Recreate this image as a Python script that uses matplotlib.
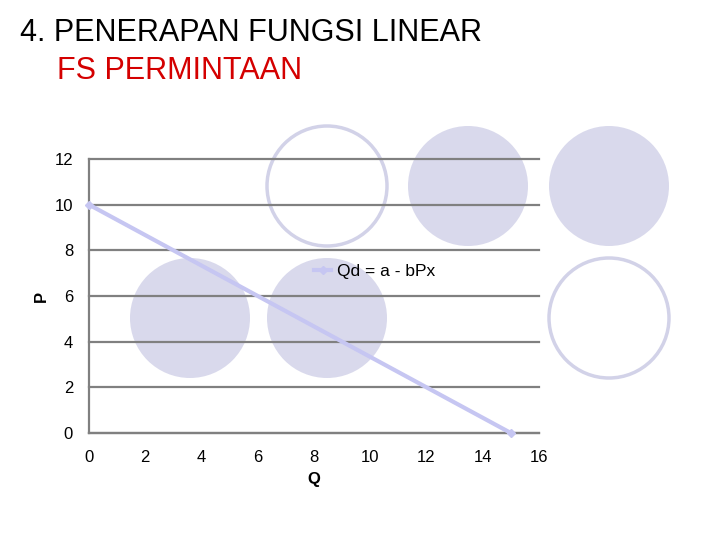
import matplotlib
matplotlib.use("Agg")
import matplotlib.pyplot as plt
from matplotlib.patches import Ellipse

plt.rcParams['font.family'] = ['Liberation Sans', 'DejaVu Sans']

# data
q_vals = [0, 15]
p_vals = [10, 0]
series_name = "Qd = a - bPx"
x_ticks = [0, 2, 4, 6, 8, 10, 12, 14, 16]
y_ticks = [0, 2, 4, 6, 8, 10, 12]

fig = plt.figure(figsize=(7.2, 5.4), dpi=100)
W, H = 720, 540

# decorative circles behind the chart (pixel centres)
fill_c = "#d9d9ec"
edge_c = "#d2d2e8"
circles = [
    (190, 318, True), (327, 318, True), (468, 186, True), (609, 186, True),
    (327, 186, False), (609, 318, False),
]
for cx, cy, filled in circles:
    e = Ellipse((cx / W, 1 - cy / H), 120 / W, 120 / H, transform=fig.transFigure,
                facecolor=fill_c if filled else "none",
                edgecolor=fill_c if filled else edge_c,
                linewidth=0 if filled else 2.5, zorder=0)
    fig.patches.append(e)

fig.text(20 / W, 1 - 41 / H, "4. PENERAPAN FUNGSI LINEAR", fontsize=22, color="black")
fig.text(57 / W, 1 - 79 / H, "FS PERMINTAAN", fontsize=22, color="#d40000")

ax = fig.add_axes([89 / W, 1 - 433 / H, 450 / W, 274 / H])
ax.set_zorder(1)
ax.set_facecolor("none")
ax.set_xlim(0, 16)
ax.set_ylim(0, 12)
ax.set_xticks(x_ticks)
ax.set_yticks(y_ticks)
ax.tick_params(axis="y", length=0, labelsize=12, pad=11.5)
ax.tick_params(axis="x", length=0, labelsize=12, pad=12)
ax.grid(axis="y", color="#808080", linewidth=1.6)
for gl in ax.get_ygridlines():
    gl.set_clip_on(False)
for s in ["top", "right"]:
    ax.spines[s].set_visible(False)
for s in ["left", "bottom"]:
    ax.spines[s].set_color("#808080")
    ax.spines[s].set_linewidth(1.6)
ax.set_axisbelow(True)

ax.plot(q_vals, p_vals, color="#c6c6f2", linewidth=3, marker="D", markersize=4,
        label=series_name, clip_on=False, zorder=3)

ax.set_xlabel("Q", fontsize=12, fontweight="bold", labelpad=5)
ax.set_ylabel("P", fontsize=12, fontweight="bold", labelpad=4)

ax.legend(loc="center left", bbox_to_anchor=(0.50, 0.588), frameon=False,
          fontsize=12.5, handlelength=1.0, handletextpad=0.3, borderpad=0,
          borderaxespad=0)

fig.savefig("out.png", dpi=100)
